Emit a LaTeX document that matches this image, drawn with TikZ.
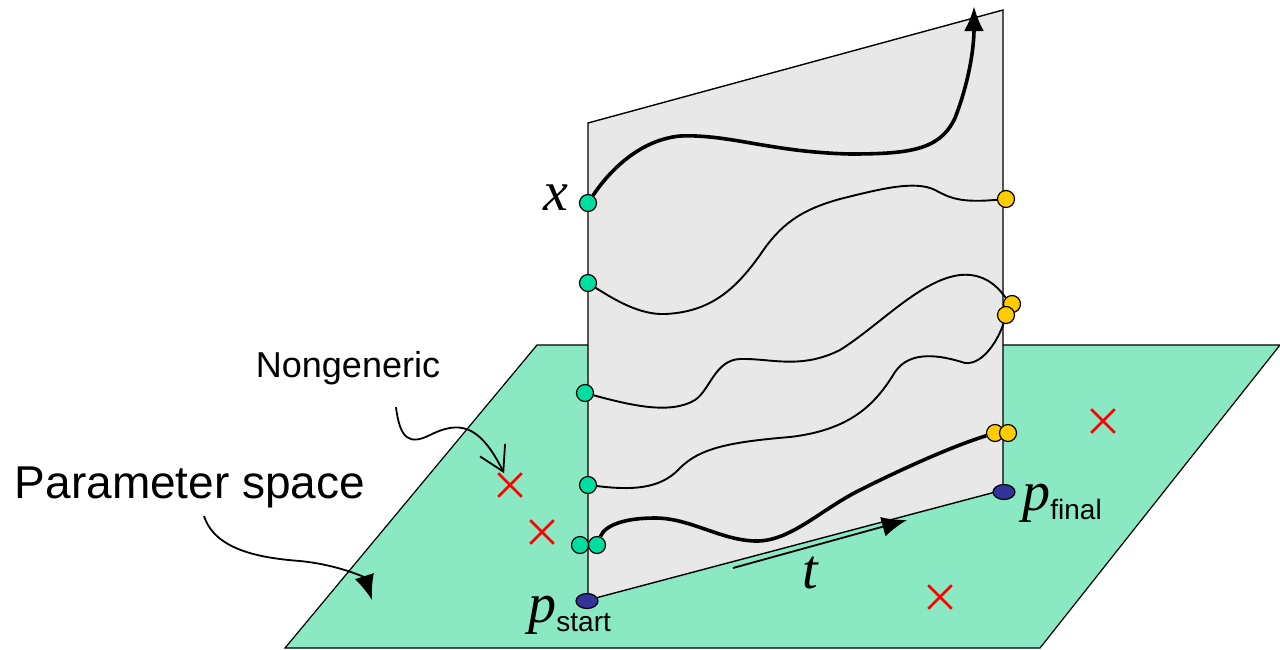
\documentclass[tikz,border=0pt]{standalone}
\usepackage{fontspec}
\setmainfont{Liberation Sans}
\newfontfamily\ttimes{Liberation Serif}
\usetikzlibrary{arrows.meta,shapes.geometric,shapes.misc}

\definecolor{planegreen}{RGB}{138,232,194}
\definecolor{dotgreen}{RGB}{0,222,160}
\definecolor{dotyellow}{RGB}{255,204,0}
\definecolor{dotblue}{RGB}{51,51,153}
\definecolor{panelgray}{RGB}{232,232,232}
\newcommand\sublbl[1]{\raisebox{-4.5pt}{\normalfont\fontsize{14}{16}\selectfont #1}}

\begin{document}
\begin{tikzpicture}[x=0.5pt, y=-0.5pt,
  plane/.style={fill=planegreen, draw=black, line width=0.6pt},
  panel/.style={fill=panelgray, draw=black, line width=0.7pt},
  dot/.style={circle, draw=black, line width=0.6pt, inner sep=0pt, minimum size=8.5pt},
  sdot/.style={dot, fill=dotgreen},
  fdot/.style={dot, fill=dotyellow},
  bdot/.style={ellipse, draw=black, line width=0.6pt, fill=dotblue, inner sep=0pt, minimum width=11pt, minimum height=7.5pt},
  pathline/.style={line width=0.95pt},
  mainpath/.style={line width=1.8pt},
  nongen/.style={cross out, draw=red, line width=1.3pt, inner sep=0pt, minimum size=10.5pt},
  lbl/.style={font=\fontsize{18}{20}\selectfont, inner sep=0pt},
  biglbl/.style={font=\fontsize{23}{26}\selectfont, inner sep=0pt},
  mathlbl/.style={font=\fontsize{28}{30}\selectfont\ttimes\itshape, inner sep=0pt},
  pointer/.style={line width=0.9pt},
  tip/.style={-{Latex[length=12.5pt,width=10pt]}}
]
\useasboundingbox (0,0) rectangle (1280,649);

% parameter plane and the homotopy sheet
\draw[plane] (285,648) -- (537,345) -- (1280,345) -- (1040,648) -- cycle;
\draw[panel] (588,600) -- (588,123) -- (1003,10) -- (1003,490) -- cycle;

% nongeneric points
\node[nongen] (nA) at (510,485) {};
\node[nongen] (nB) at (542,532) {};
\node[nongen] (nC) at (1103,421) {};
\node[nongen] (nD) at (940,597) {};

% start and end points
\node[bdot] (pS) at (587,601) {};
\node[bdot] (pF) at (1004,492) {};
\node[sdot] (s1) at (588,203) {};
\node[sdot] (s2) at (588,283) {};
\node[sdot] (s3) at (585,393) {};
\node[sdot] (s4) at (588,485) {};
\node[sdot] (s5a) at (580,545) {};
\node[sdot] (s5b) at (597,545) {};
\node[fdot] (f1) at (1006,199) {};
\node[fdot] (f2) at (1012,304) {};
\node[fdot] (f3) at (1006,315) {};
\node[fdot] (f4a) at (995,433) {};
\node[fdot] (f4b) at (1008,433) {};
\coordinate (top) at (974,6);

% solution paths
\draw[mainpath, tip] (s1) .. controls (610,170) and (640,140) .. (680,136)
  .. controls (730,134) and (770,152) .. (850,154) .. controls (910,154) and (940,150) .. (955,118)
  .. controls (968,85) and (974,50) .. (top);
\draw[pathline] (s2) .. controls (615,300) and (640,315) .. (665,314) .. controls (710,312) and (735,290) .. (760,255)
  .. controls (780,225) and (800,210) .. (840,199) .. controls (880,189) and (915,180) .. (935,190)
  .. controls (950,198) and (960,203) .. (f1);
\draw[pathline] (s3) .. controls (630,405) and (670,415) .. (695,400) .. controls (710,390) and (715,360) .. (740,359)
  .. controls (770,358) and (800,370) .. (840,350) .. controls (880,325) and (920,280) .. (960,275)
  .. controls (990,272) and (1003,295) .. (f2);
\draw[pathline] (s4) .. controls (630,490) and (660,490) .. (680,468) .. controls (700,448) and (730,442) .. (790,437)
  .. controls (850,430) and (875,405) .. (895,372) .. controls (910,350) and (940,355) .. (965,363)
  .. controls (985,365) and (1000,335) .. (f3);
\draw[mainpath] (s5b) .. controls (605,525) and (625,518) .. (655,518) .. controls (690,518) and (720,540) .. (755,541)
  .. controls (790,542) and (820,510) .. (860,490) .. controls (900,470) and (950,447) .. (f4a);

% parameter direction
\coordinate (tA) at (733,568);
\coordinate (tB) at (907,520);
\draw[pointer, tip] (tA) -- (tB);

% labels
\node[mathlbl, anchor=base] (xlbl) at (556,210) {x};
\node[mathlbl, anchor=base] (tlbl) at (810,588) {t};
\node[mathlbl, anchor=base west] (pslbl) at (528,622) {p\sublbl{start}};
\node[mathlbl, anchor=base west] (pflbl) at (1022,510) {p\sublbl{final}};
\node[lbl] (ng) at (348,368) {Nongeneric};
\node[biglbl] (ps) at (190,487) {Parameter space};
\coordinate (psTip) at (372,600);

\draw[pointer, -{Straight Barb[length=12pt,width=14pt]}] ([xshift=24pt,yshift=-11pt]ng.south)
  .. controls (400,440) and (410,445) .. (430,435) .. controls (460,420) and (480,425) .. (nA);
\draw[pointer, tip] ([xshift=7pt,yshift=-4pt]ps.south)
  .. controls (215,550) and (260,558) .. (300,561) .. controls (340,565) and (365,578) .. (psTip);
\end{tikzpicture}
\end{document}
